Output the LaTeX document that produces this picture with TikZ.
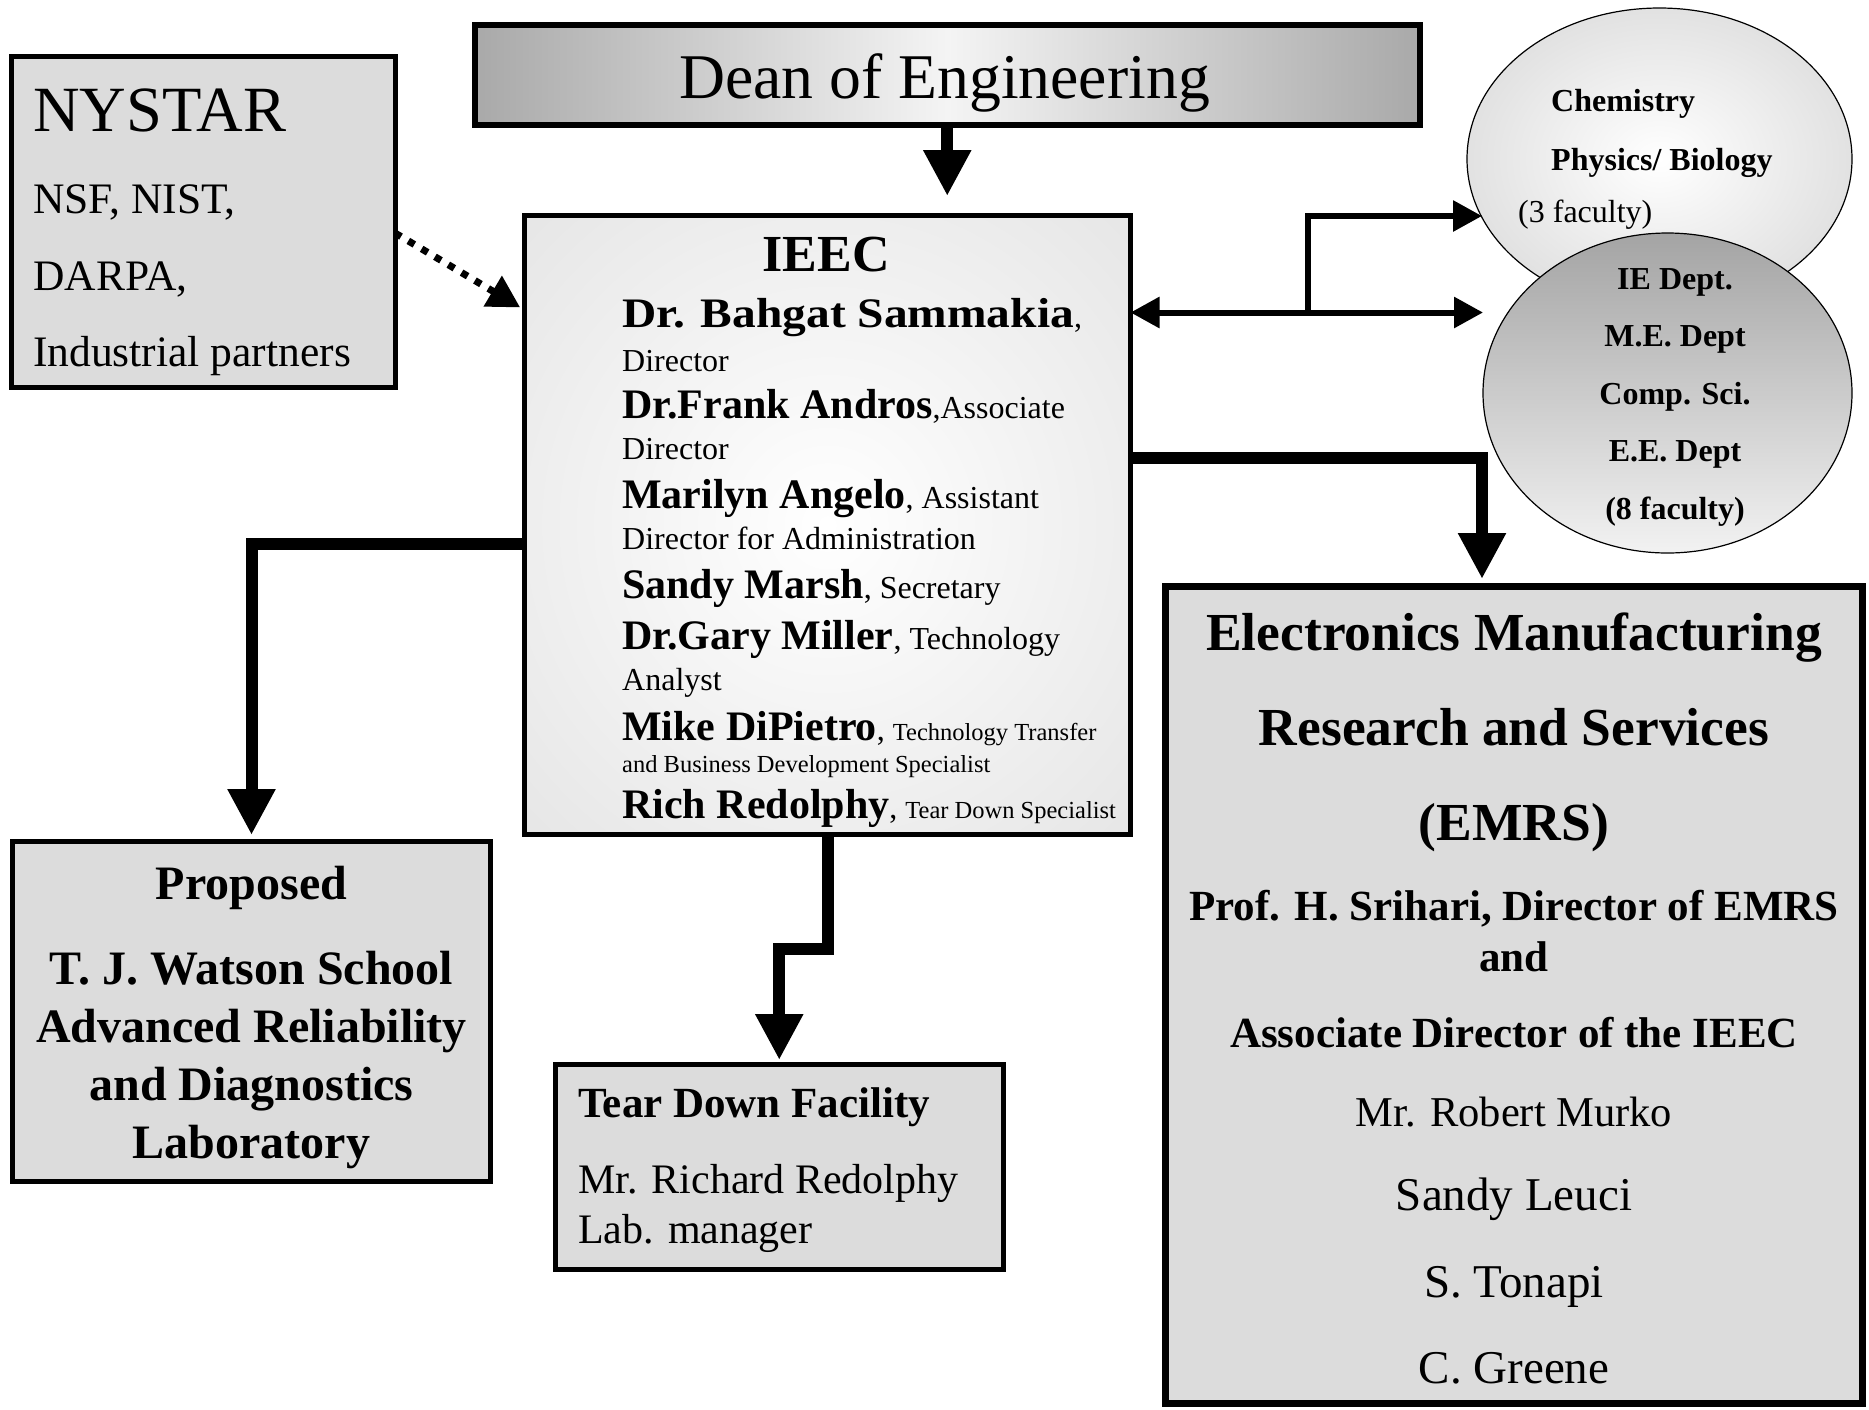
\documentclass[tikz,border=0pt]{standalone}
\usepackage{fontspec}
\setmainfont{Liberation Serif}
\usetikzlibrary{arrows.meta,shapes.geometric}

\definecolor{boxgray}{HTML}{DCDCDC}
\definecolor{ellgray}{HTML}{C4C4C4}
\definecolor{deanedge}{HTML}{A9A9A9}
\definecolor{deanmid}{HTML}{F4F4F4}
\definecolor{engtop}{HTML}{A4A4A4}
\definecolor{engbot}{HTML}{F2F2F2}

\pgfdeclareradialshading{paleglow}{\pgfpointorigin}{color(0bp)=(white); color(50bp)=(boxgray); color(72bp)=(boxgray)}
\pgfdeclareradialshading{softglow}{\pgfpointorigin}{color(0bp)=(white); color(50bp)=(ellgray); color(72bp)=(ellgray)}

\newcommand\bigname[1]{{\fontsize{42}{42}\selectfont\bfseries #1}}
\newcommand\smalltxt{\fontsize{32}{32}\selectfont}
\newcommand\tinytxt{\fontsize{24.5}{24.5}\selectfont}

\tikzset{
  box/.style={draw, rectangle, line width=5pt, fill=boxgray, inner sep=0pt, outer sep=0pt},
  oval/.style={draw, ellipse, line width=1.2pt, inner sep=0pt, outer sep=0pt},
  txt/.style={anchor=base west, inner sep=0pt},
  ctxt/.style={anchor=base, inner sep=0pt},
  fat arrow/.style={line width=12pt, line join=miter, -{Triangle[length=46pt,width=45pt]}},
  mid arrow/.style={line width=6pt, line join=miter, -{Triangle[length=29pt,width=30pt]}},
  dot arrow/.style={line width=7pt, dash pattern=on 7pt off 8.5pt, -{Triangle[length=32pt,width=34pt]}},
}

\begin{document}
\begin{tikzpicture}[x=1pt, y=-1pt]
\useasboundingbox (0,0) rectangle (1869,1409);

% Cajas
\node[box, line width=6pt, minimum width=944.5pt, minimum height=100pt,
  left color=deanedge, right color=deanedge, middle color=deanmid] (dean) at (947.25,75) {};
\node[box, minimum width=383.5pt, minimum height=331pt] (nystar) at (203.25,222) {};
\node[box, minimum width=606pt, minimum height=618.5pt, shade, shading=paleglow] (ieec) at (827.5,524.75) {};
\node[box, minimum width=478pt, minimum height=340pt] (prop) at (251.5,1011.5) {};
\node[box, minimum width=448.5pt, minimum height=205pt] (lab) at (779.25,1167) {};
\node[box, line width=7pt, minimum width=697pt, minimum height=817pt] (emrs) at (1514,995) {};
\node[oval, minimum width=385pt, minimum height=302pt, shade, shading=softglow] (sci) at (1659.5,159) {};
\node[oval, minimum width=369pt, minimum height=320pt, top color=engtop, bottom color=engbot] (eng) at (1667.5,393) {};

% Textos
\node[ctxt, font=\fontsize{63.7}{64}\selectfont] (dean-t) at (944.5,98) {Dean of Engineering};

\node[txt, font=\fontsize{64.5}{65}\selectfont] (nystar-t) at (33,131) {NYSTAR};
\foreach \y/\txt [count=\i] in {213/{NSF, NIST,}, 290/{DARPA,}, 366/{Industrial partners}}
  \node[txt, font=\fontsize{43.5}{44}\selectfont] (nystar-\i) at (33,\y) {\txt};

\node[ctxt, font=\fontsize{52}{52}\selectfont\bfseries] (ieec-t) at (826,271) {IEEC};
\foreach \y/\txt [count=\i] in {
    327/{\scalebox{1.13}[1]{\bigname{Dr. Bahgat Sammakia}},},
    371/{Director},
    418/{\bigname{Dr.Frank Andros},Associate},
    459/{Director},
    508/{\bigname{Marilyn Angelo}, Assistant},
    549/{Director for Administration},
    598/{\bigname{Sandy Marsh}, Secretary},
    649/{\bigname{Dr.Gary Miller}, Technology},
    690/{Analyst},
    740/{\bigname{Mike DiPietro}, {\tinytxt Technology Transfer}},
    772/{{\tinytxt and Business Development Specialist}},
    818/{\bigname{Rich Redolphy}, {\tinytxt Tear Down Specialist}}}
  \node[txt, font=\smalltxt] (ieec-\i) at (622,\y) {\txt};

\node[txt, font=\smalltxt\bfseries] (sci-1) at (1551,111) {Chemistry};
\node[txt, font=\smalltxt\bfseries] (sci-2) at (1551,170) {Physics/ Biology};
\node[txt, font=\smalltxt] (sci-3) at (1518,222) {(3 faculty)};
\foreach \y/\txt [count=\i] in {289/{IE Dept.}, 346/{M.E. Dept}, 404/{Comp. Sci.}, 461/{E.E. Dept}, 519/{(8 faculty)}}
  \node[ctxt, font=\smalltxt\bfseries] (eng-\i) at (1675,\y) {\txt};

\foreach \y/\txt [count=\i] in {650/{Electronics Manufacturing}, 745/{Research and Services}, 840/{(EMRS)}}
  \node[ctxt, font=\fontsize{53.5}{54}\selectfont\bfseries] (emrs-head-\i) at (1514,\y) {\txt};
\foreach \y/\txt [count=\i] in {920/{Prof. H. Srihari, Director of EMRS}, 971/{and}, 1047/{Associate Director of the IEEC}}
  \node[ctxt, font=\fontsize{43}{43}\selectfont\bfseries] (emrs-lead-\i) at (1514,\y) {\txt};
\node[ctxt, font=\fontsize{42.5}{43}\selectfont] (emrs-staff-1) at (1514,1126) {Mr. Robert Murko};
\foreach \y/\txt [count=\i from 2] in {1210/{Sandy Leuci}, 1297/{S. Tonapi}, 1383/{C. Greene}}
  \node[ctxt, font=\fontsize{47}{47}\selectfont] (emrs-staff-\i) at (1514,\y) {\txt};

\foreach \y/\txt [count=\i] in {899/{Proposed}, 984/{T. J. Watson School}, 1042/{Advanced Reliability}, 1100/{and Diagnostics}, 1158/{Laboratory}}
  \node[ctxt, font=\fontsize{48}{48}\selectfont\bfseries] (prop-\i) at (251.5,\y) {\txt};

\node[txt, font=\fontsize{43}{43}\selectfont\bfseries] (lab-t) at (578,1117) {Tear Down Facility};
\node[txt, font=\fontsize{42}{42}\selectfont] (lab-1) at (578,1193) {Mr. Richard Redolphy};
\node[txt, font=\fontsize{42}{42}\selectfont] (lab-2) at (578,1243) {Lab. manager};

% Conectores
\draw[fat arrow, shorten >=19.5pt] (dean.south) -- (dean.south |- ieec.north);
\draw[dot arrow, shorten >=5pt] (nystar.east |- 0,233) -- (ieec.west |- 0,310);

\coordinate (split) at (1307.5,312.5);
\coordinate (sci-in) at (1482,216);
\coordinate (eng-in) at (1483,312.5);
\draw[mid arrow, {Triangle[length=29pt,width=30pt]}-{Triangle[length=29pt,width=30pt]}]
  (ieec.east |- split) -- (split) |- (sci-in);
\draw[mid arrow] (split) -- (eng-in);

\draw[fat arrow, shorten >=7.5pt] (ieec.east |- 0,457.5) -| (emrs.north -| 1482,0);
\draw[fat arrow, shorten >=6.5pt] (ieec.west |- 0,544) -| (prop.north);

\coordinate (tdbend) at (827.5,949);
\draw[fat arrow, shorten >=4.5pt] (ieec.south -| tdbend) -- (tdbend) -| (lab.north);
\end{tikzpicture}
\end{document}
